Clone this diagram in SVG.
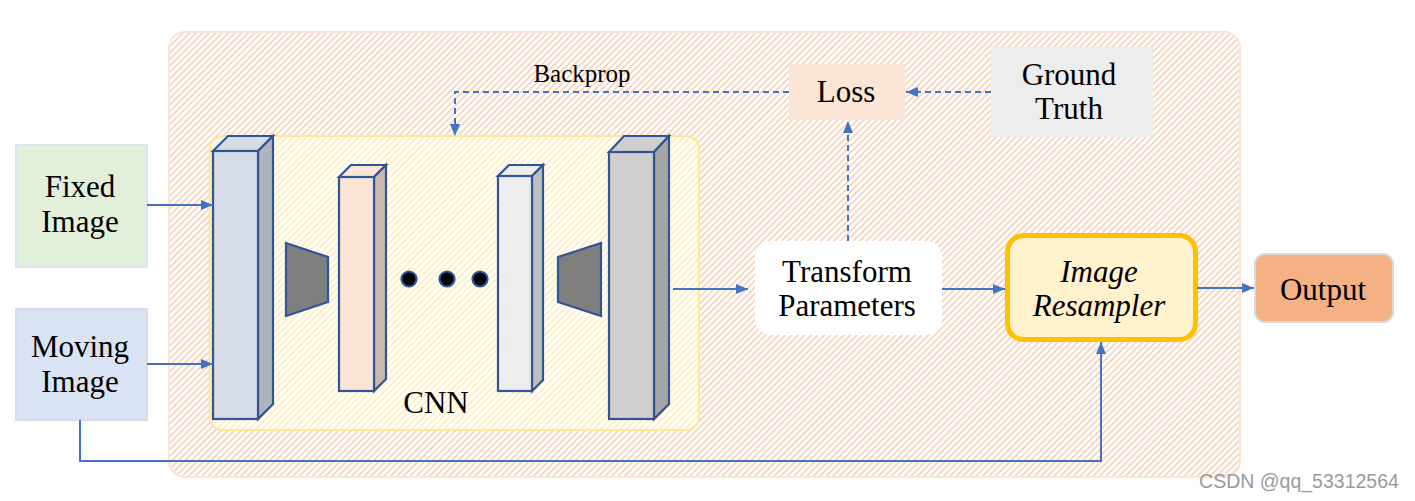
<svg xmlns="http://www.w3.org/2000/svg" width="1415" height="501" viewBox="0 0 1415 501" font-family="'Liberation Serif', 'Times New Roman', serif">
<defs>
<pattern id="hatchP" patternUnits="userSpaceOnUse" width="4.6" height="4.6" patternTransform="rotate(45)">
<rect width="4.6" height="4.6" fill="#ffffff"/>
<line x1="1" y1="0" x2="1" y2="4.6" stroke="#f6c3a2" stroke-width="1.3"/>
</pattern>
<pattern id="hatchY" patternUnits="userSpaceOnUse" width="4.6" height="4.6" patternTransform="rotate(45)">
<rect width="4.6" height="4.6" fill="#fffef8"/>
<line x1="1" y1="0" x2="1" y2="4.6" stroke="#ffe9b0" stroke-width="1.3"/>
</pattern>
<marker id="ah" viewBox="0 0 12 10" refX="12" refY="5" markerWidth="12" markerHeight="10" markerUnits="userSpaceOnUse" orient="auto">
<path d="M0,0 L12,5 L0,10 Z" fill="#4472c4"/>
</marker>
</defs>
<style>
text{font-family:'Liberation Serif','Times New Roman',serif;fill:#000;text-anchor:middle}
.t{font-size:31px}
.blk{stroke:#2f5597;stroke-width:2.2;stroke-linejoin:miter}
.conn{fill:none;stroke:#4472c4;stroke-width:2}
.dash{stroke-dasharray:6 4}
.wm{font-family:'Liberation Sans',Arial,sans-serif;font-size:19.5px;fill:#9a9a9a}
</style>
<rect width="1415" height="501" fill="#ffffff"/>

<g id="frame">
<rect x="169" y="32" width="1071" height="445" rx="16" fill="url(#hatchP)" stroke="#fbe5d6" stroke-width="2"/>
</g>

<g id="cnn">
<rect x="210" y="136" width="489" height="294" rx="13" fill="url(#hatchY)" stroke="#ffe699" stroke-width="2"/>
<text class="t" x="436" y="413">CNN</text>
</g>

<g id="layer1">
<polygon class="blk" points="213,151 228,136 273,136 258,151" fill="#d6dce5"/>
<polygon class="blk" points="258,151 273,136 273,404 258,419" fill="#adb4bd"/>
<rect class="blk" x="213" y="151" width="45" height="268" fill="#d6dce5"/>
</g>
<g id="pool1">
<polygon class="blk" points="286,243 328,257 328,302 286,316" fill="#7f7f7f"/>
</g>
<g id="layer2">
<polygon class="blk" points="339,177 351,165 386,165 374,177" fill="#fbe5d6"/>
<polygon class="blk" points="374,177 386,165 386,379 374,391" fill="#c9b8ab"/>
<rect class="blk" x="339" y="177" width="35" height="214" fill="#fbe5d6"/>
</g>
<g id="dots">
<circle class="blk" cx="409" cy="279" r="7.5" fill="#000"/>
<circle class="blk" cx="447" cy="279" r="7.5" fill="#000"/>
<circle class="blk" cx="480" cy="279" r="7.5" fill="#000"/>
</g>
<g id="layer3">
<polygon class="blk" points="498,176 509,165 543,165 532,176" fill="#ededed"/>
<polygon class="blk" points="532,176 543,165 543,380 532,391" fill="#bfbfbf"/>
<rect class="blk" x="498" y="176" width="34" height="215" fill="#ededed"/>
</g>
<g id="pool2">
<polygon class="blk" points="558,257 601,243 601,316 558,302" fill="#7f7f7f"/>
</g>
<g id="layer4">
<polygon class="blk" points="609,152 624,136 669,136 654,152" fill="#d0cece"/>
<polygon class="blk" points="654,152 669,136 669,404 654,419" fill="#a6a6a6"/>
<rect class="blk" x="609" y="152" width="45" height="267" fill="#d0cece"/>
</g>

<g id="fixed">
<rect x="16" y="145" width="131" height="122" fill="#e2f0d9" stroke="#dae3f3" stroke-width="2"/>
<text class="t" x="80" y="197">Fixed</text>
<text class="t" x="80" y="232">Image</text>
</g>
<g id="moving">
<rect x="16" y="309" width="131" height="111" fill="#dae3f3" stroke="#d6dce5" stroke-width="2"/>
<text class="t" x="80" y="357">Moving</text>
<text class="t" x="80" y="392">Image</text>
</g>
<g id="transform">
<rect x="755" y="241" width="187" height="94" rx="16" fill="#ffffff"/>
<text class="t" x="847" y="282">Transform</text>
<text class="t" x="847" y="316">Parameters</text>
</g>
<g id="resampler">
<rect x="1007.5" y="235.5" width="188" height="104" rx="16" fill="#fff2cc" stroke="#ffc000" stroke-width="5"/>
<text class="t" x="1099" y="282" font-style="italic">Image</text>
<text class="t" x="1099" y="316" font-style="italic">Resampler</text>
</g>
<g id="output">
<rect x="1255" y="254" width="138" height="68" rx="10" fill="#f4b183" stroke="#d9d9d9" stroke-width="2"/>
<text class="t" x="1323" y="300">Output</text>
</g>
<g id="loss">
<rect x="789" y="64" width="116" height="56" fill="#fbe5d6"/>
<text class="t" x="846" y="102">Loss</text>
</g>
<g id="groundtruth">
<rect x="991" y="47" width="162" height="90" fill="#ededed"/>
<text class="t" x="1069" y="85">Ground</text>
<text class="t" x="1069" y="119">Truth</text>
</g>

<g id="connectors">
<line class="conn" x1="147" y1="205" x2="213" y2="205" marker-end="url(#ah)"/>
<line class="conn" x1="147" y1="364" x2="213" y2="364" marker-end="url(#ah)"/>
<line class="conn" x1="673" y1="289" x2="748" y2="289" marker-end="url(#ah)"/>
<line class="conn" x1="942" y1="289" x2="1005" y2="289" marker-end="url(#ah)"/>
<line class="conn" x1="1197" y1="288" x2="1254" y2="288" marker-end="url(#ah)"/>
<polyline class="conn" points="80,420 80,461 1101,461 1101,342" marker-end="url(#ah)"/>
<line class="conn dash" x1="991" y1="92" x2="906" y2="92" marker-end="url(#ah)"/>
<line class="conn dash" x1="848" y1="241" x2="848" y2="121" marker-end="url(#ah)"/>
<polyline class="conn dash" points="789,92 455,92 455,136" marker-end="url(#ah)"/>
<text x="582" y="82" font-size="25">Backprop</text>
</g>

<text class="wm" x="1299" y="488">CSDN @qq_53312564</text>
</svg>
